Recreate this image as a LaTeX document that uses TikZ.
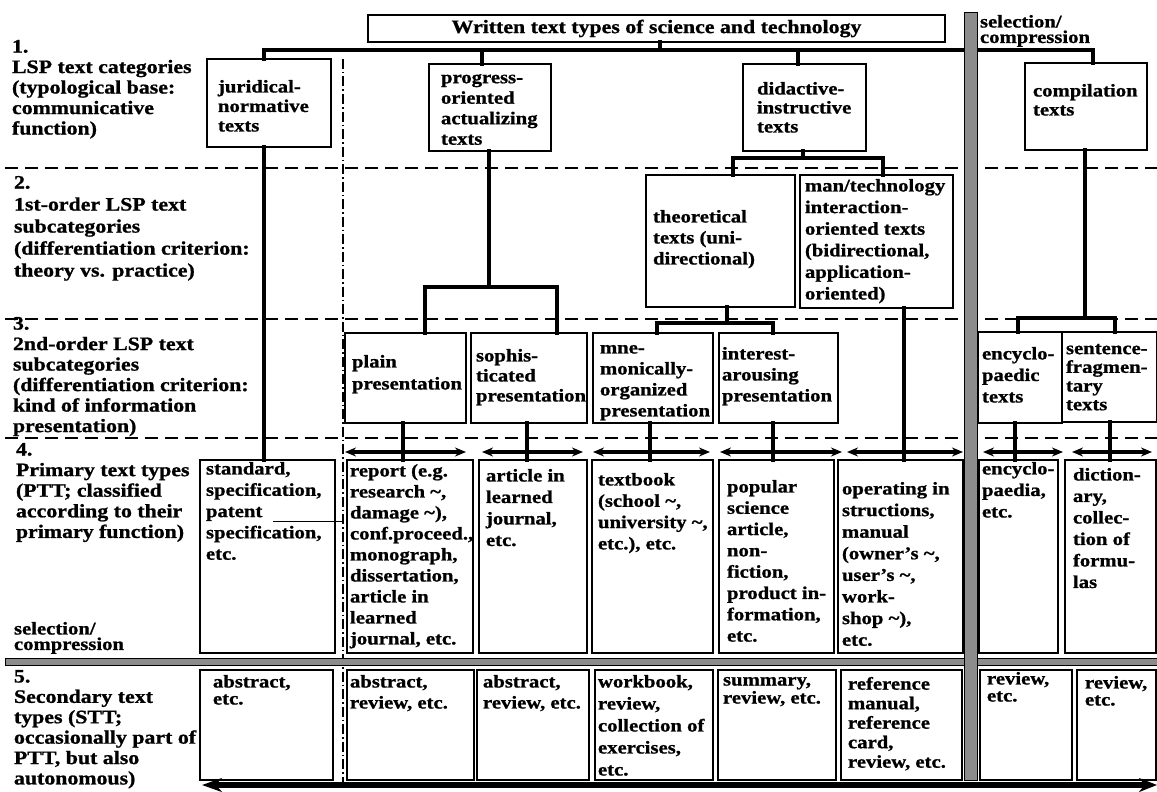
\documentclass[tikz,border=0pt]{standalone}
\usepackage{fontspec}
\setmainfont{Liberation Serif}[FakeStretch=1.15,FakeBold=1]
\usetikzlibrary{arrows.meta}
\newcommand\bxf[1]{\fontsize{18}{#1}\selectfont\bfseries}
\newcommand\lbf[1]{\fontsize{19}{#1}\selectfont\bfseries}
\newcommand\mkbox[5]{\node[box, minimum width=#4, minimum height=#5] (#1) at (#2,#3) {};}
\newcommand\tl{\textasciitilde}
\tikzset{
  box/.style={draw, line width=2pt, fill=white, inner sep=0pt, outer sep=0pt, anchor=north west},
  txt/.style={inner sep=0pt, outer sep=0pt, anchor=north west, align=left, font=\bxf{#1},
    execute at begin node={\lineskiplimit=-50pt\lineskip=0pt\rule{0pt}{13pt}}},
  txt/.default=21,
  lab/.style={txt=#1, font=\lbf{#1}},
  tree/.style={line width=3.6pt, line cap=rect},
  arr/.style={line width=3.2pt, {Stealth[length=11pt,width=9pt]}-{Stealth[length=11pt,width=9pt]}},
  bigarr/.style={line width=5.5pt, {Stealth[length=20pt,width=14pt]}-{Stealth[length=18pt,width=14pt]}},
  sep/.style={line width=1.3pt, dash pattern=on 13pt off 7pt},
  dashdot/.style={line width=1.3pt, dash pattern=on 10pt off 3pt on 1.5pt off 3pt},
  bar/.style={fill=black!45, draw=black, line width=1pt},
}
\begin{document}
\begin{tikzpicture}[x=1pt,y=-1pt]
\useasboundingbox (0,0) rectangle (1157,792);
\fill[white] (0,0) rectangle (1157,792);

% level separators
\coordinate (s1a) at (5,168); \coordinate (s1b) at (1157,168);
\coordinate (s2a) at (5,319); \coordinate (s2b) at (1157,319);
\coordinate (s3a) at (5,438); \coordinate (s3b) at (1157,438);
\draw[sep] (s1a) -- (s1b);
\draw[sep] (s2a) -- (s2b);
\draw[sep] (s3a) -- (s3b);
\coordinate (ddT) at (343,59); \coordinate (ddB) at (343,782);
\draw[dashdot] (ddT) -- (ddB);

% left labels
\node[lab=20.5] (L1) at (12,40) {1.\\LSP text categories\\(typological base:\\communicative\\function)};
\node[lab=22] (L2) at (14,176) {2.\\1st-order LSP text\\subcategories\\(differentiation criterion:\\theory vs. practice)};
\node[lab=20.5] (L3) at (13,317) {3.\\2nd-order LSP text\\subcategories\\(differentiation criterion:\\kind of information\\presentation)};
\node[lab=20.6] (L4) at (16,443) {4.\\Primary text types\\(PTT; classified\\according to their\\primary function)};
\node[lab=20.4] (L5) at (14,670) {5.\\Secondary text\\types (STT;\\occasionally part of\\PTT, but also\\autonomous)};
\node[txt=15.5] (selL) at (14,622) {selection/\\compression};
\node[txt=15.5] (selT) at (980,15) {selection/\\compression};

% title
\node[box, minimum width=577, minimum height=27, font=\lbf{22}] (title) at (368,15) {Written text types of science and technology};

% level 1
\mkbox{jur}{207}{59}{124}{88}
\mkbox{prog}{429}{64}{122}{87}
\mkbox{did}{743}{64}{123}{87}
\mkbox{comp}{1025}{63}{122}{87}
\node[txt=19.5] (jur-t) at (218,80) {juridical-\\normative\\texts};
\node[txt=20.5] (prog-t) at (441,74) {progress-\\oriented\\actualizing\\texts};
\node[txt=19] (did-t) at (757,82) {didactive-\\instructive\\texts};
\node[txt=19] (comp-t) at (1033,84) {compilation\\texts};

% level 2
\mkbox{theo}{646}{175}{149}{132}
\mkbox{man}{800}{175}{153}{133}
\node[txt=21] (theo-t) at (653,210) {theoretical\\texts (uni-\\directional)};
\node[txt=21.6] (man-t) at (805,179) {man/technology\\interaction-\\oriented texts\\(bidirectional,\\application-\\oriented)};

% level 3
\mkbox{plain}{345}{333}{121}{90}
\mkbox{soph}{471}{333}{116}{90}
\mkbox{mnem}{593}{333}{120}{90}
\mkbox{inter}{719}{333}{119}{90}
\mkbox{ency3}{978}{332}{84}{91}
\mkbox{sent}{1062}{332}{95}{90}
\node[txt=22] (plain-t) at (352,355) {plain\\presentation};
\node[txt=20] (soph-t) at (476,349) {sophis-\\ticated\\presentation};
\node[txt=21] (mnem-t) at (600,345) {mne-\\monically-\\organized\\presentation};
\node[txt=21] (inter-t) at (722,347) {interest-\\arousing\\presentation};
\node[txt=21.5] (ency3-t) at (982,347) {encyclo-\\paedic\\texts};
\node[txt=18.7] (sent-t) at (1066,344) {sentence-\\fragmen-\\tary\\texts};

% level 4
\mkbox{std}{200}{460}{135}{193}
\mkbox{rep}{347}{460}{126}{193}
\mkbox{art}{479}{460}{108}{193}
\mkbox{tb}{592}{460}{121}{193}
\mkbox{pop}{719}{460}{115}{193}
\mkbox{op}{838}{460}{125}{193}
\mkbox{enc4}{979}{460}{79}{193}
\mkbox{dict}{1065}{460}{91}{193}
\node[txt=21.3] (std-t) at (206,462) {standard,\\specification,\\patent\\specification,\\etc.};
\node[txt=21] (rep-t) at (350,464) {report (e.g.\\research \tl,\\damage \tl),\\conf.proceed.,\\monograph,\\dissertation,\\article in\\learned\\journal, etc.};
\node[txt=21.5] (art-t) at (486,469) {article in\\learned\\journal,\\etc.};
\node[txt=21.3] (tb-t) at (598,473) {textbook\\(school \tl,\\university \tl,\\etc.), etc.};
\node[txt=21.3] (pop-t) at (727,480) {popular\\science\\article,\\non-\\fiction,\\product in-\\formation,\\etc.};
\node[txt=21.6] (op-t) at (842,482) {operating in\\structions,\\manual\\(owner's \tl,\\user's \tl,\\work-\\shop \tl),\\etc.};
\node[txt=21.5] (enc4-t) at (982,462) {encyclo-\\paedia,\\etc.};
\node[txt=21.5] (dict-t) at (1073,468) {diction-\\ary,\\collec-\\tion of\\formu-\\las};
\coordinate (pt1) at (273,521); \coordinate (pt2) at (343,521);
\draw[line width=0.8pt] (pt1) -- (pt2);

% level 5
\mkbox{a1}{200}{670}{133}{110}
\mkbox{a2}{347}{670}{127}{110}
\mkbox{a3}{477}{670}{112}{110}
\mkbox{wb}{595}{670}{118}{110}
\mkbox{sum}{718}{670}{118}{110}
\mkbox{ref}{841}{670}{121}{110}
\mkbox{r1}{980}{670}{92}{110}
\mkbox{r2}{1077}{670}{79}{110}
\node[txt=17] (a1-t) at (213,675) {abstract,\\etc.};
\node[txt=21] (a2-t) at (350,675) {abstract,\\review, etc.};
\node[txt=21] (a3-t) at (483,675) {abstract,\\review, etc.};
\node[txt=22] (wb-t) at (598,675) {workbook,\\review,\\collection of\\exercises,\\etc.};
\node[txt=18] (sum-t) at (723,677) {summary,\\review, etc.};
\node[txt=19.5] (ref-t) at (848,677) {reference\\manual,\\reference\\card,\\review, etc.};
\node[txt=17] (r1-t) at (987,672) {review,\\etc.};
\node[txt=17] (r2-t) at (1085,676) {review,\\etc.};

% top bus
\coordinate (bL) at (264,50); \coordinate (bR) at (1093,50);
\coordinate (bT) at (660,50); \coordinate (bP) at (482,50); \coordinate (bD) at (798,50);
\draw[tree] (bL) -- (bR);
\draw[tree] (title.south -| bT) -- (bT);
\draw[tree] (bL) -- (jur.north -| bL);
\draw[tree] (bP) -- (prog.north -| bP);
\draw[tree] (bD) -- (did.north -| bD);
\draw[tree] (bR) -- (comp.north -| bR);
\draw[tree] (jur.south -| bL) -- (std.north -| bL);

% didactive split
\coordinate (dM) at (803,158); \coordinate (dL) at (733,158); \coordinate (dR) at (883,158);
\draw[tree] (did.south -| dM) -- (dM);
\draw[tree] (dL) -- (dR);
\draw[tree] (dL) -- (theo.north -| dL);
\draw[tree] (dR) -- (man.north -| dR);

% progress split
\coordinate (pM) at (489,287); \coordinate (pL) at (425,287); \coordinate (pR) at (557,287);
\draw[tree] (prog.south -| pM) -- (pM);
\draw[tree] (pL) -- (pR);
\draw[tree] (pL) -- (plain.north -| pL);
\draw[tree] (pR) -- (soph.north -| pR);

% theoretical split
\coordinate (tM) at (727,323); \coordinate (tL) at (657,323); \coordinate (tR) at (773,323);
\draw[tree] (theo.south -| tM) -- (tM);
\draw[tree] (tL) -- (tR);
\draw[tree] (tL) -- (mnem.north -| tL);
\draw[tree] (tR) -- (inter.north -| tR);

% compilation split
\coordinate (cM) at (1085,318); \coordinate (cL) at (1018,318); \coordinate (cR) at (1115,318);
\draw[tree] (comp.south -| cM) -- (cM);
\draw[tree] (cL) -- (cR);
\draw[tree] (cL) -- (ency3.north -| cL);
\draw[tree] (cR) -- (sent.north -| cR);

% level 3 -> level 4 ticks
\coordinate (k1) at (403,452); \coordinate (k2) at (527,452); \coordinate (k3) at (650,452);
\coordinate (k4) at (773,452); \coordinate (k5) at (904,452); \coordinate (k6) at (1015,452);
\coordinate (k7) at (1110,452);
\draw[tree] (plain.south -| k1) -- (rep.north -| k1);
\draw[tree] (soph.south -| k2) -- (art.north -| k2);
\draw[tree] (mnem.south -| k3) -- (tb.north -| k3);
\draw[tree] (inter.south -| k4) -- (pop.north -| k4);
\draw[tree] (man.south -| k5) -- (op.north -| k5);
\draw[tree] (ency3.south -| k6) -- (enc4.north -| k6);
\draw[tree] (sent.south -| k7) -- (dict.north -| k7);

% double arrows
\coordinate (a1l) at (345,452); \coordinate (a1r) at (466,452);
\coordinate (a2l) at (482,452); \coordinate (a2r) at (583,452);
\coordinate (a3l) at (593,452); \coordinate (a3r) at (710,452);
\coordinate (a4l) at (720,452); \coordinate (a4r) at (842,452);
\coordinate (a5l) at (847,452); \coordinate (a5r) at (963,452);
\coordinate (a6l) at (983,452); \coordinate (a6r) at (1063,452);
\coordinate (a7l) at (1072,452); \coordinate (a7r) at (1152,452);
\draw[arr] (a1l) -- (a1r);
\draw[arr] (a2l) -- (a2r);
\draw[arr] (a3l) -- (a3r);
\draw[arr] (a4l) -- (a4r);
\draw[arr] (a5l) -- (a5r);
\draw[arr] (a6l) -- (a6r);
\draw[arr] (a7l) -- (a7r);

% gray selection/compression bars
\filldraw[bar] (5,658) rectangle (1157,665);
\filldraw[bar] (964,13) rectangle (977,780);

% bottom arrow
\coordinate (bl) at (202,785); \coordinate (br) at (1157,785);
\draw[bigarr] (bl) -- (br);
\end{tikzpicture}
\end{document}
